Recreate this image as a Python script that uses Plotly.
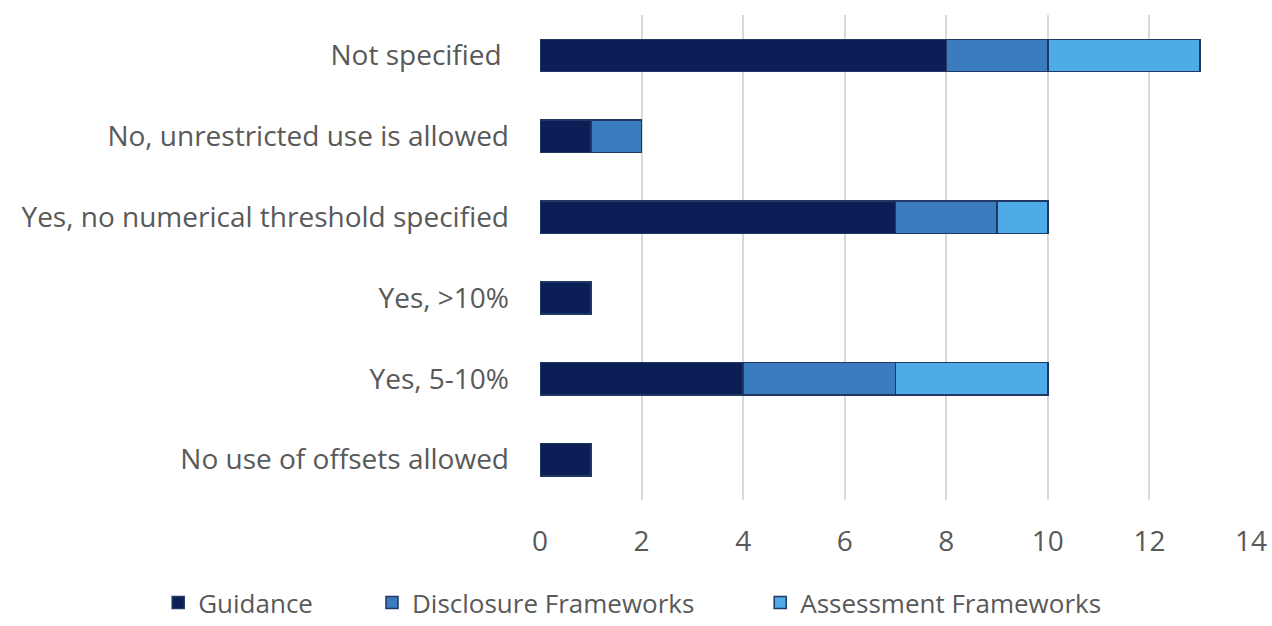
import plotly.graph_objects as go

categories = [
    "Not specified ",
    "No, unrestricted use is allowed",
    "Yes, no numerical threshold specified",
    "Yes, >10%",
    "Yes, 5-10%",
    "No use of offsets allowed",
]
guidance = [8, 1, 7, 1, 4, 1]
disclosure = [2, 1, 2, 0, 3, 0]
assessment = [3, 0, 1, 0, 3, 0]

NB = "\u00a0"
series = [
    ("Guidance" + NB * 8, guidance, "#0B1F56"),
    ("Disclosure Frameworks" + NB * 9, disclosure, "#3A7CBD"),
    ("Assessment Frameworks", assessment, "#4EABE7"),
]

FONT = "Open Sans, Arial, sans-serif"
GRAY = "#595959"

fig = go.Figure()
for name, vals, color in series:
    fig.add_trace(go.Bar(
        y=categories, x=vals, name=name, orientation="h",
        marker=dict(color=color, line=dict(color="#1F3864", width=1.5)),
        width=0.4,
    ))

fig.update_layout(
    barmode="stack",
    width=1272, height=626,
    margin=dict(l=540, r=21, t=15, b=126, autoexpand=False),
    paper_bgcolor="white", plot_bgcolor="white",
    font=dict(family=FONT, color=GRAY, size=28),
    legend=dict(
        orientation="h", x=-0.537, xanchor="left", y=-0.2598, yanchor="bottom",
        font=dict(size=26, color=GRAY, family=FONT),
        traceorder="normal", itemwidth=30,
    ),
    xaxis=dict(
        range=[0, 14], dtick=2, showgrid=True, gridcolor="#D9D9D9", gridwidth=2,
        zeroline=False, showline=False, tickfont=dict(size=28, color=GRAY),
        ticks="", ticklabelstandoff=22,
    ),
    yaxis=dict(
        categoryorder="array", categoryarray=categories, autorange="reversed",
        showgrid=False, showline=False, ticks="", ticklabelstandoff=30,
        tickfont=dict(size=28, color=GRAY),
    ),
)

fig.write_html("out.html")
